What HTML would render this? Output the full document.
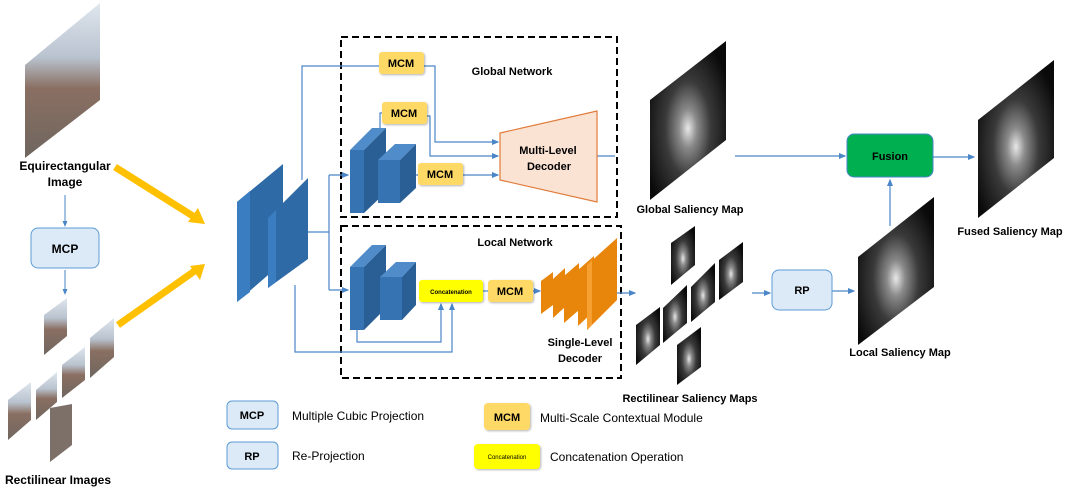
<!DOCTYPE html>
<html><head><meta charset="utf-8"><style>
html,body{margin:0;padding:0;background:#fff}
svg{display:block}
text{font-family:"Liberation Sans",sans-serif}
</style></head><body>
<svg width="1080" height="497" viewBox="0 0 1080 497" xmlns="http://www.w3.org/2000/svg">
<defs>
<marker id="a" markerWidth="6" markerHeight="6" refX="5" refY="3" orient="auto"><path d="M0,0.5 L6,3 L0,5.5z" fill="#4a86c8"/></marker>
<radialGradient id="sal" cx="0.5" cy="0.55" r="0.6" fx="0.5" fy="0.55">
<stop offset="0" stop-color="#e8e8e8"/><stop offset="0.2" stop-color="#8a8a8a"/><stop offset="0.5" stop-color="#3a3a3a"/><stop offset="1" stop-color="#0a0a0a"/></radialGradient>
<linearGradient id="img" x1="0" y1="0" x2="0" y2="1">
<stop offset="0" stop-color="#dfe6ee"/><stop offset="0.35" stop-color="#b9c3cf"/><stop offset="0.55" stop-color="#8a6f62"/><stop offset="1" stop-color="#6f665f"/></linearGradient>
<filter id="sh"><feDropShadow dx="1" dy="1" stdDeviation="1" flood-opacity="0.3"/></filter>
</defs>

<!-- Left column -->
<polygon points="25,65 100,3 100,100 25,158" fill="url(#img)"/>
<text x="65" y="170" font-size="12" font-weight="bold" text-anchor="middle">Equirectangular</text>
<text x="65" y="186" font-size="12" font-weight="bold" text-anchor="middle">Image</text>
<line x1="65" y1="195" x2="65" y2="226" stroke="#4a86c8" marker-end="url(#a)"/>
<rect x="31" y="228" width="68" height="40" rx="7" fill="#dce9f6" stroke="#5b9bd5"/>
<text x="65" y="253" font-size="12" font-weight="bold" text-anchor="middle">MCP</text>
<line x1="65" y1="270" x2="65" y2="294" stroke="#4a86c8" marker-end="url(#a)"/>
<polygon points="44,315 67,298 67,336 44,355" fill="url(#img)"/>
<polygon points="62,365 85,347 85,380 62,398" fill="url(#img)"/>
<polygon points="90,338 114,318 114,357 90,378" fill="url(#img)"/>
<polygon points="36,390 57,372 57,402 36,420" fill="url(#img)"/>
<polygon points="8,400 31,382 31,420 8,440" fill="url(#img)"/>
<polygon points="50,408 72,404 72,445 50,462" fill="#7d7068"/>
<text x="58" y="484" font-size="12" font-weight="bold" text-anchor="middle">Rectilinear Images</text>
<!-- yellow arrows -->
<line x1="115" y1="167" x2="196" y2="218" stroke="#ffc000" stroke-width="7"/>
<polygon points="205,224 188,222 198,208" fill="#ffc000"/>
<line x1="118" y1="325" x2="196" y2="270" stroke="#ffc000" stroke-width="7"/>
<polygon points="205,264 200,280 190,266" fill="#ffc000"/>

<!-- Encoder slabs -->
<polygon points="237,202 283,164 283,262 237,302" fill="#2e6aa6"/>
<polygon points="237,202 250,191 250,292 237,302" fill="#3a7dc0"/>
<polygon points="268,218 308,178 308,259 268,288" fill="#2e6aa6"/>
<polygon points="268,218 276,210 276,282 268,288" fill="#3a7dc0"/>

<!-- Dashed boxes -->
<rect x="341" y="37" width="276" height="180" fill="none" stroke="#000" stroke-width="2" stroke-dasharray="7,4"/>
<rect x="341" y="226" width="280" height="152" fill="none" stroke="#000" stroke-width="2" stroke-dasharray="7,4"/>
<text x="512" y="75" font-size="11" font-weight="bold" text-anchor="middle">Global Network</text>
<text x="515" y="246" font-size="11" font-weight="bold" text-anchor="middle">Local Network</text>

<!-- connectors -->
<g fill="none" stroke="#4a86c8" stroke-width="1.2">
<polyline points="302,180 302,66 379,66"/>
<polyline points="424,66 435,66 435,142 498,142" marker-end="url(#a)"/>
<polyline points="380,128 380,113 382,113"/>
<polyline points="427,116 430,116 430,156 498,156" marker-end="url(#a)"/>
<polyline points="401,175 418,175"/>
<polyline points="463,175 498,175" marker-end="url(#a)"/>
<polyline points="308,232 329,232"/>
<polyline points="329,175 329,290"/>
<polyline points="329,175 348,175" marker-end="url(#a)"/>
<polyline points="329,290 348,290" marker-end="url(#a)"/>
<polyline points="295,285 295,352 452,352 452,304" marker-end="url(#a)"/>
<polyline points="357,330 357,342 441,342 441,304" marker-end="url(#a)"/>
<polyline points="483,291 488,291"/>
<polyline points="533,291 540,291" marker-end="url(#a)"/>
<polyline points="600,293 635,293" marker-end="url(#a)"/>
<polyline points="597,156 615,156"/>
<polyline points="735,156 845,156" marker-end="url(#a)"/>
<polyline points="933,157 974,157" marker-end="url(#a)"/>
<polyline points="890,226 890,180" marker-end="url(#a)"/>
<polyline points="752,293 770,293" marker-end="url(#a)"/>
<polyline points="832,291 854,291" marker-end="url(#a)"/>
</g>

<!-- Global blocks -->
<polygon points="350,150 372,128 386,128 364,150" fill="#4f8cc9"/>
<polygon points="364,150 386,128 386,192 364,213" fill="#2a5f96"/>
<rect x="350" y="150" width="14" height="63" fill="#3573b3"/>
<polygon points="378,160 395,144 416,144 400,160" fill="#4f8cc9"/>
<polygon points="400,160 416,144 416,188 400,203" fill="#2a5f96"/>
<rect x="378" y="160" width="22" height="43" fill="#3573b3"/>
<!-- Local blocks -->
<polygon points="350,267 372,245 386,245 364,267" fill="#4f8cc9"/>
<polygon points="364,267 386,245 386,308 364,330" fill="#2a5f96"/>
<rect x="350" y="267" width="14" height="63" fill="#3573b3"/>
<polygon points="380,277 396,262 416,262 402,277" fill="#4f8cc9"/>
<polygon points="402,277 416,262 416,305 402,320" fill="#2a5f96"/>
<rect x="380" y="277" width="22" height="43" fill="#3573b3"/>

<!-- MCM boxes -->
<g filter="url(#sh)" font-size="11" font-weight="bold" text-anchor="middle">
<rect x="379" y="52" width="45" height="22" rx="3" fill="#ffd966"/><text x="401" y="67">MCM</text>
<rect x="382" y="102" width="45" height="22" rx="3" fill="#ffd966"/><text x="404" y="117">MCM</text>
<rect x="418" y="163" width="45" height="22" rx="3" fill="#ffd966"/><text x="440" y="178">MCM</text>
<rect x="488" y="280" width="45" height="22" rx="3" fill="#ffd966"/><text x="510" y="295">MCM</text>
<rect x="419" y="280" width="64" height="22" rx="3" fill="#ffff00"/><text x="451" y="294" font-size="6">Concatenation</text>
</g>

<!-- Multi-level decoder -->
<polygon points="500,133 597,111 597,202 500,180" fill="#fbe3d4" stroke="#e07b39" stroke-width="1.2"/>
<text x="548" y="154" font-size="11" font-weight="bold" text-anchor="middle">Multi-Level</text>
<text x="549" y="170" font-size="11" font-weight="bold" text-anchor="middle">Decoder</text>

<!-- Orange slabs -->
<g>
<polygon points="541,281 553,272 553,305 541,314" fill="#e8860b"/>
<polygon points="553,279 565,268 565,307 553,318" fill="#e8860b"/>
<polygon points="564,276 579,263 579,310 564,323" fill="#e8860b"/>
<polygon points="578,270 594,256 594,311 578,326" fill="#e8860b"/>
<polygon points="587,265 617,238 617,300 587,330" fill="#e8860b"/>
<polygon points="587,265 592,260 592,325 587,330" fill="#f5a030"/>
</g>
<text x="580" y="346" font-size="11" font-weight="bold" text-anchor="middle">Single-Level</text>
<text x="580" y="362" font-size="11" font-weight="bold" text-anchor="middle">Decoder</text>

<!-- Saliency maps -->
<polygon points="650,100 726,41 726,140 650,200" fill="url(#sal)"/>
<text x="690" y="213" font-size="11" font-weight="bold" text-anchor="middle">Global Saliency Map</text>
<polygon points="978,120 1054,60 1054,158 978,218" fill="url(#sal)"/>
<text x="1010" y="235" font-size="11" font-weight="bold" text-anchor="middle">Fused Saliency Map</text>
<polygon points="858,257 934,197 934,287 858,345" fill="url(#sal)"/>
<text x="900" y="356" font-size="11" font-weight="bold" text-anchor="middle">Local Saliency Map</text>
<g fill="url(#sal)">
<polygon points="671,243 695,226 695,265 671,285"/>
<polygon points="719,260 743,242 743,282 719,300"/>
<polygon points="691,287 715,263 715,302 691,322"/>
<polygon points="663,308 687,285 687,323 663,343"/>
<polygon points="636,325 660,307 660,345 636,365"/>
<polygon points="677,345 701,327 701,367 677,385"/>
</g>
<text x="690" y="402" font-size="11" font-weight="bold" text-anchor="middle">Rectilinear Saliency Maps</text>

<!-- Fusion & RP -->
<rect x="847" y="134" width="86" height="43" rx="7" fill="#00b050" stroke="#4a86c8"/>
<text x="890" y="160" font-size="11" font-weight="bold" text-anchor="middle">Fusion</text>
<rect x="772" y="270" width="60" height="40" rx="7" fill="#dce9f6" stroke="#5b9bd5"/>
<text x="802" y="294" font-size="11" font-weight="bold" text-anchor="middle">RP</text>

<!-- Legend -->
<rect x="227" y="401" width="51" height="28" rx="5" fill="#dce9f6" stroke="#5b9bd5"/>
<text x="252" y="419" font-size="11" font-weight="bold" text-anchor="middle">MCP</text>
<text x="292" y="420" font-size="12">Multiple Cubic Projection</text>
<rect x="227" y="442" width="51" height="27" rx="5" fill="#dce9f6" stroke="#5b9bd5"/>
<text x="252" y="460" font-size="11" font-weight="bold" text-anchor="middle">RP</text>
<text x="292" y="460" font-size="12">Re-Projection</text>
<rect x="484" y="403" width="46" height="27" rx="4" fill="#ffd966" filter="url(#sh)"/>
<text x="507" y="421" font-size="11" font-weight="bold" text-anchor="middle">MCM</text>
<text x="540" y="422" font-size="12">Multi-Scale Contextual Module</text>
<rect x="474" y="444" width="66" height="25" rx="4" fill="#ffff00" filter="url(#sh)"/>
<text x="507" y="459" font-size="6" text-anchor="middle">Concatenation</text>
<text x="550" y="461" font-size="12">Concatenation Operation</text>
</svg>
</body></html>
